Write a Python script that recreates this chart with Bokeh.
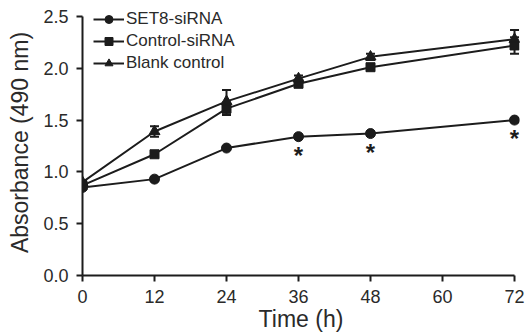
from bokeh.plotting import figure
from bokeh.models import (ColumnDataSource, FixedTicker, Whisker, TeeHead, Legend,
                          LegendItem, Range1d, NumeralTickFormatter)
from bokeh.core.properties import value
from bokeh.embed import file_html
from bokeh.resources import INLINE

# ---- data ----
times = [0, 12, 24, 36, 48, 72]
set8 = [0.85, 0.93, 1.23, 1.34, 1.37, 1.50]
set8_err = [0.02, 0.02, 0.02, 0.02, 0.02, 0.02]
control = [0.87, 1.17, 1.61, 1.85, 2.01, 2.22]
control_err = [0.02, 0.03, 0.06, 0.03, 0.03, 0.08]
blank = [0.90, 1.39, 1.68, 1.90, 2.11, 2.28]
blank_err = [0.02, 0.05, 0.11, 0.03, 0.03, 0.09]
series_names = ["SET8-siRNA", "Control-siRNA", "Blank control"]
sig_times = [36, 48, 72]
x_ticks = [0, 12, 24, 36, 48, 60, 72]
y_ticks = [0.0, 0.5, 1.0, 1.5, 2.0, 2.5]

INK = "#1c1c1c"
FONT = "Liberation Sans"

p = figure(width=527, height=334, output_backend="svg", toolbar_location=None,
           x_range=Range1d(0, 72.83), y_range=Range1d(0, 2.567),
           min_border_left=82, min_border_right=8, min_border_top=9, min_border_bottom=58)
p.outline_line_color = None
p.xgrid.visible = False
p.ygrid.visible = False
p.background_fill_color = "white"

# axes
for ax in (p.xaxis[0], p.yaxis[0]):
    ax.axis_line_color = INK
    ax.axis_line_width = 2
    ax.major_tick_line_color = INK
    ax.major_tick_line_width = 2
    ax.major_tick_out = 6
    ax.major_tick_in = 0
    ax.minor_tick_line_color = None
    ax.major_label_text_font = FONT
    ax.major_label_text_font_size = "18px"
    ax.major_label_text_color = "#2a2a2a"
    ax.axis_label_text_font = FONT
    ax.axis_label_text_font_size = "23px"
    ax.axis_label_text_font_style = "normal"
    ax.axis_label_text_color = "#2a2a2a"

p.xaxis.ticker = FixedTicker(ticks=x_ticks)
p.xaxis.bounds = (x_ticks[0], x_ticks[-1])
p.xaxis.axis_label = "Time (h)"
p.xaxis.major_label_standoff = 8
p.xaxis.axis_label_standoff = 0

p.yaxis.ticker = FixedTicker(ticks=y_ticks)
p.yaxis.bounds = (y_ticks[0], y_ticks[-1])
p.yaxis.formatter = NumeralTickFormatter(format="0.0")
p.yaxis.axis_label = "Absorbance (490 nm)"
p.yaxis.major_label_standoff = 8
p.yaxis.axis_label_standoff = 7

series = [
    (set8, set8_err, "circle", 10),
    (control, control_err, "square", 9),
    (blank, blank_err, "triangle", 11),
]

items = []
for (vals, errs, marker, size), name in zip(series, series_names):
    src = ColumnDataSource(dict(
        x=times, y=vals,
        upper=[v + e for v, e in zip(vals, errs)],
        lower=[v - e for v, e in zip(vals, errs)],
    ))
    ln = p.line("x", "y", source=src, line_color=INK, line_width=2)
    wk = Whisker(source=src, base="x", upper="upper", lower="lower",
                 line_color=INK, line_width=2,
                 upper_head=TeeHead(size=9, line_color=INK, line_width=2),
                 lower_head=TeeHead(size=9, line_color=INK, line_width=2))
    p.add_layout(wk)
    sc = p.scatter("x", "y", source=src, marker=marker, size=size,
                   fill_color=INK, line_color=INK)
    items.append(LegendItem(label=name, renderers=[ln, sc]))

# significance asterisks
sig_y = [set8[times.index(t)] for t in sig_times]
p.text(x=sig_times, y=sig_y, text=["*"] * len(sig_times),
       text_font=value(FONT), text_font_size="24px", text_font_style="bold",
       text_color=INK, text_align="center", text_baseline="top", y_offset=5)

legend = Legend(items=items, location=(11, 202))
legend.background_fill_alpha = 0
legend.border_line_color = None
legend.padding = 0
legend.spacing = 2
legend.glyph_width = 31
legend.glyph_height = 20
legend.label_height = 20
legend.label_standoff = 2
legend.label_text_font = FONT
legend.label_text_font_size = "17px"
legend.label_text_color = "#2a2a2a"
p.add_layout(legend, "center")

open("out.html", "w").write(file_html(p, INLINE))
